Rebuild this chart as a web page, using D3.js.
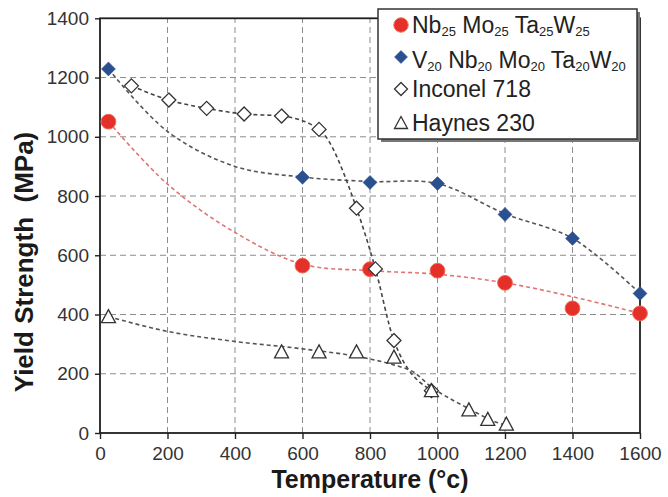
<!DOCTYPE html>
<html>
<head>
<meta charset="utf-8">
<script src="https://cdn.jsdelivr.net/npm/d3@7"></script>
<style>
  body { margin: 0; background: #fff; }
  svg { display: block; font-family: "Liberation Sans", Arial, sans-serif; }
</style>
</head>
<body>
<svg id="chart" width="668" height="497"></svg>
<script>
const nbTemp = [25, 600, 800, 1000, 1200, 1400, 1600];
const nbYield = [1051, 565, 553, 548, 507, 421, 404];
const nbFitTemp = [25, 200, 400, 600, 800, 1000, 1200, 1400, 1600];
const nbFitYield = [1051, 840, 677, 570, 548, 536, 507, 460, 404];

// V20Nb20Mo20Ta20W20
const vTemp = [25, 600, 800, 1000, 1200, 1400, 1600];
const vYield = [1229, 863, 846, 842, 738, 657, 471];
const vFitTemp = [25, 200, 400, 600, 800, 1000, 1200, 1400, 1600];
const vFitYield = [1229, 1018, 900, 864, 849, 842, 740, 657, 471];

// Inconel 718
const incTemp = [93, 204, 316, 427, 538, 649, 760, 816, 871, 982];
const incYield = [1172, 1124, 1096, 1077, 1070, 1025, 759, 554, 312, 143];

// Haynes 230
const hayTemp = [25, 538, 649, 760, 871, 982, 1093, 1149, 1204];
const hayYield = [393, 274, 274, 274, 256, 143, 78, 46, 30];
const hayFitTemp = [25, 200, 400, 600, 800, 870, 930, 982, 1050, 1100, 1150, 1204];
const hayFitYield = [393, 343, 309, 284, 250, 230, 205, 155, 108, 78, 48, 25];

const xTicks = [0, 200, 400, 600, 800, 1000, 1200, 1400, 1600];
const yTicks = [0, 200, 400, 600, 800, 1000, 1200, 1400];

// legend labels: [text, isSubscript]
const legendLabels = [
  [["Nb", 0], ["25", 1], [" Mo", 0], ["25", 1], [" Ta", 0], ["25", 1], ["W", 0], ["25", 1]],
  [["V", 0], ["20", 1], [" Nb", 0], ["20", 1], [" Mo", 0], ["20", 1], [" Ta", 0], ["20", 1], ["W", 0], ["20", 1]],
  [["Inconel 718", 0]],
  [["Haynes 230", 0]]
];

const red = "#e5302a";
const blue = "#2a5090";

const svg = d3.select("#chart");
const x = d3.scaleLinear().domain([0, 1600]).range([100, 640]);
const y = d3.scaleLinear().domain([0, 1400]).range([433, 18.3]);

// grid
const grid = svg.append("g").attr("stroke", "#8c8c8c").attr("stroke-dasharray", "6,4").attr("stroke-width", 1);
grid.selectAll("line.v")
  .data(xTicks.slice(1, -1))
  .enter().append("line")
  .attr("x1", d => x(d)).attr("x2", d => x(d))
  .attr("y1", y(0)).attr("y2", y(1400));
grid.selectAll("line.h")
  .data(yTicks.slice(1, -1))
  .enter().append("line")
  .attr("y1", d => y(d)).attr("y2", d => y(d))
  .attr("x1", x(0)).attr("x2", x(1600));

// axes
const xAxis = svg.append("g")
  .attr("transform", `translate(0,${y(0)})`)
  .call(d3.axisBottom(x).tickValues(xTicks).tickSize(6).tickPadding(8).tickFormat(d3.format("d")));
const yAxis = svg.append("g")
  .attr("transform", `translate(${x(0)},0)`)
  .call(d3.axisLeft(y).tickValues(yTicks).tickSize(5).tickPadding(6).tickFormat(d3.format("d")));
[xAxis, yAxis].forEach(a => {
  a.select(".domain").remove();
  a.selectAll(".tick line").attr("stroke", "#222").attr("stroke-width", 1.4);
  a.selectAll(".tick text")
    .attr("fill", "#333")
    .style("font-size", "19px")
    .style("font-family", "'Liberation Sans', Arial, sans-serif");
});

// frame
svg.append("rect")
  .attr("x", x(0)).attr("y", y(1400))
  .attr("width", x(1600) - x(0)).attr("height", y(0) - y(1400))
  .attr("fill", "none").attr("stroke", "#1e1e1e").attr("stroke-width", 1.8);

// trend lines
const smooth = d3.line().curve(d3.curveCatmullRom.alpha(0.5)).x(d => x(d[0])).y(d => y(d[1]));
const mono = d3.line().curve(d3.curveMonotoneX).x(d => x(d[0])).y(d => y(d[1]));
const trends = [
  [d3.zip(nbFitTemp, nbFitYield), "#e07474", smooth],
  [d3.zip(vFitTemp, vFitYield), "#555", smooth],
  [d3.zip(incTemp, incYield), "#444", mono],
  [d3.zip(hayFitTemp, hayFitYield), "#555", mono]
];
svg.append("g").selectAll("path")
  .data(trends)
  .enter().append("path")
  .attr("d", d => d[2](d[0]))
  .attr("fill", "none")
  .attr("stroke", d => d[1])
  .attr("stroke-width", 1.6)
  .attr("stroke-dasharray", "4,3");

// marker shapes
function shape(kind, s) {
  if (kind === "circle") return d3.symbol(d3.symbolCircle, Math.PI * s * s)();
  if (kind === "diamond") return `M0,${-s}L${s},0L0,${s}L${-s},0Z`;
  return `M0,${-s}L${s},${s - 1}L${-s},${s - 1}Z`;
}

const series = [
  { t: nbTemp, v: nbYield, kind: "circle", size: 7.4, fill: red, stroke: "#ef6a55", sw: 1 },
  { t: vTemp, v: vYield, kind: "diamond", size: 7, fill: blue, stroke: blue, sw: 0.5 },
  { t: incTemp, v: incYield, kind: "diamond", size: 7, fill: "#fff", stroke: "#333", sw: 1.3 },
  { t: hayTemp, v: hayYield, kind: "triangle", size: 7, fill: "#fff", stroke: "#333", sw: 1.3 }
];
series.forEach(s => {
  svg.append("g").selectAll("path")
    .data(d3.zip(s.t, s.v))
    .enter().append("path")
    .attr("transform", d => `translate(${x(d[0])},${y(d[1])})`)
    .attr("d", shape(s.kind, s.size))
    .attr("fill", s.fill)
    .attr("stroke", s.stroke)
    .attr("stroke-width", s.sw);
});

// axis titles
svg.append("text")
  .attr("x", (x(0) + x(1600)) / 2).attr("y", 488)
  .attr("text-anchor", "middle")
  .attr("font-weight", "bold").attr("font-size", 25).attr("fill", "#1a1a1a")
  .text("Temperature (\u00b0c)");
svg.append("text")
  .attr("transform", "translate(33,262) rotate(-90)")
  .attr("text-anchor", "middle")
  .attr("font-weight", "bold").attr("font-size", 26).attr("fill", "#1a1a1a")
  .attr("xml:space", "preserve")
  .text("Yield Strength  (MPa)");

// legend
const leg = svg.append("g");
leg.append("rect").attr("x", 381).attr("y", 12).attr("width", 259).attr("height", 130).attr("fill", "#777");
leg.append("rect").attr("x", 378).attr("y", 9).attr("width", 259).attr("height", 130)
  .attr("fill", "#fff").attr("stroke", "#333").attr("stroke-width", 1.5);

const legendRows = [33, 68, 97, 131];
const legendMarkY = [25, 57, 89, 123];
legendLabels.forEach((parts, i) => {
  const s = series[i];
  leg.append("path")
    .attr("transform", `translate(401,${legendMarkY[i]})`)
    .attr("d", shape(s.kind, s.kind === "circle" ? 7.2 : 6.5))
    .attr("fill", s.fill).attr("stroke", s.stroke).attr("stroke-width", s.sw);
  const t = leg.append("text")
    .attr("x", 412).attr("y", legendRows[i])
    .attr("font-size", 23).attr("fill", "#222")
    .attr("xml:space", "preserve");
  let shifted = false;
  parts.forEach(p => {
    const ts = t.append("tspan").text(p[0]);
    if (p[1] && !shifted) { ts.attr("dy", 3).attr("font-size", 13); shifted = true; }
    else if (p[1]) { ts.attr("font-size", 13); }
    else if (shifted) { ts.attr("dy", -3); shifted = false; }
  });
});
</script>
</body>
</html>
